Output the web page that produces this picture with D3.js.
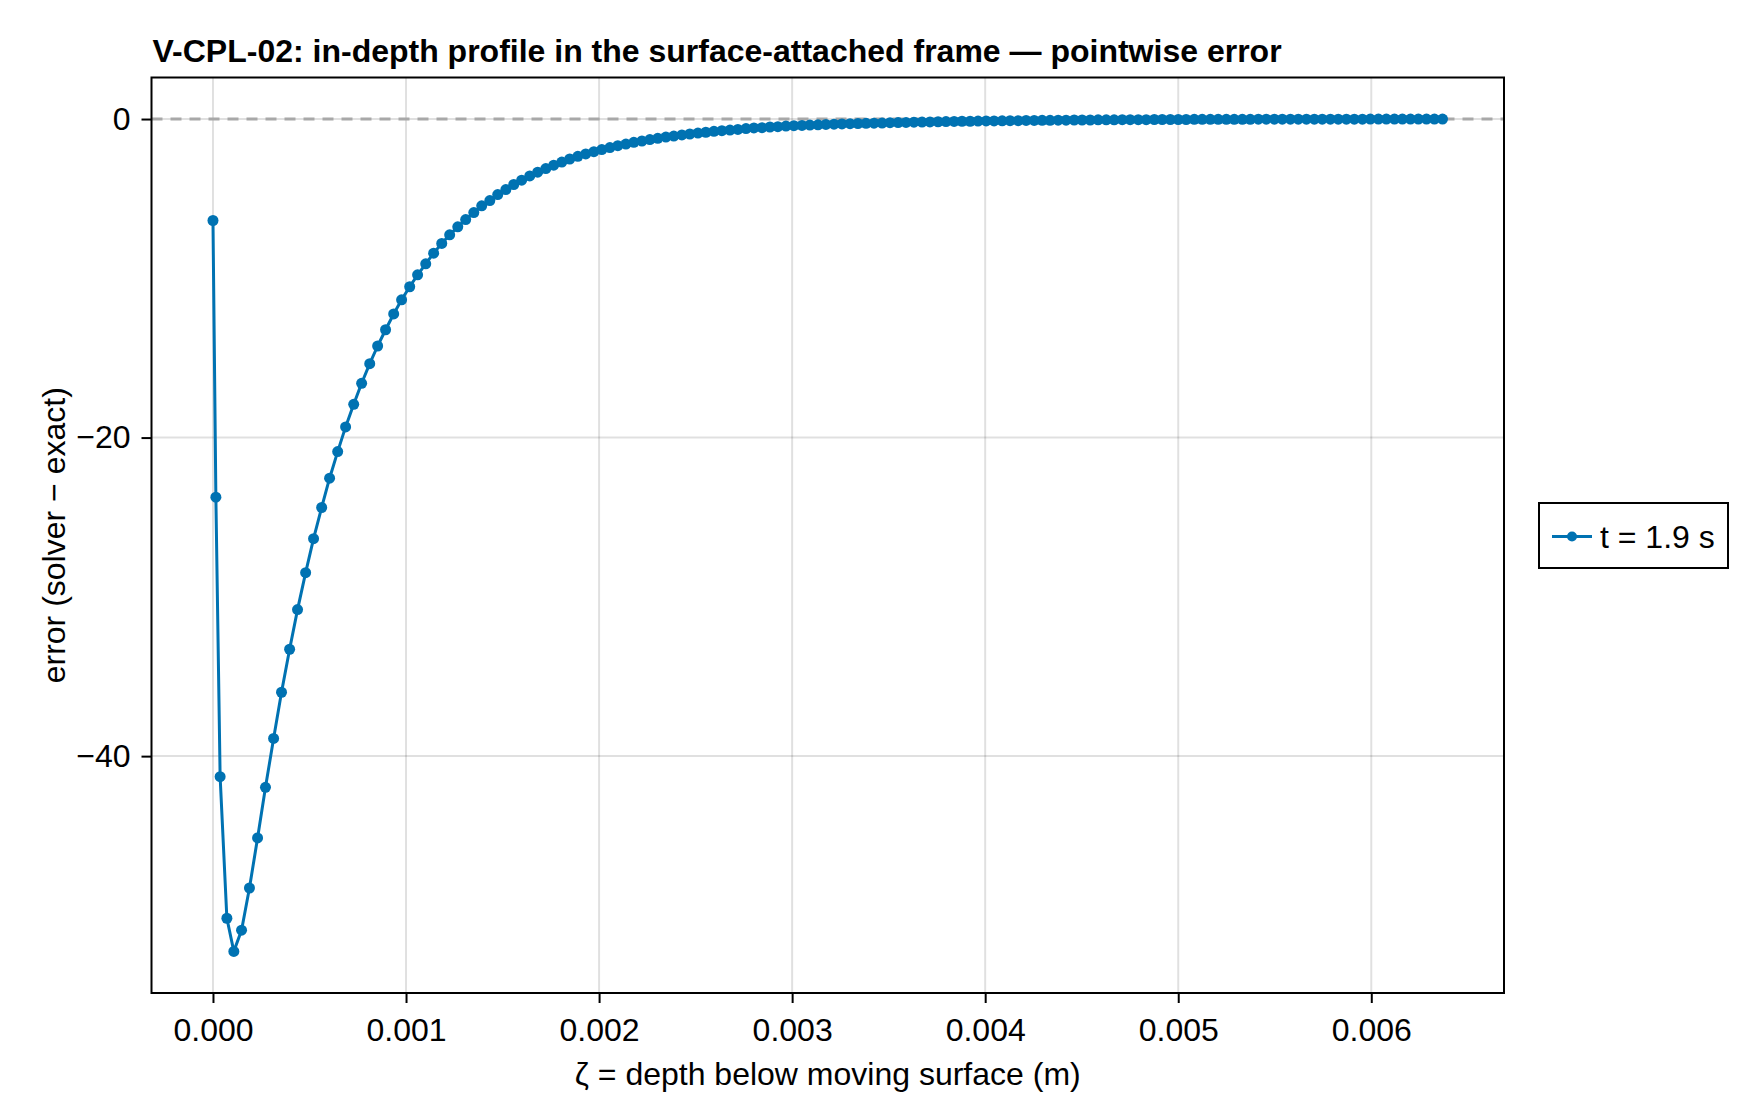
<!DOCTYPE html>
<html>
<head>
<meta charset="utf-8">
<title>V-CPL-02 pointwise error</title>
<script src="https://cdn.jsdelivr.net/npm/d3@7"></script>
<style>
  body { margin: 0; background: #ffffff; }
  svg text { font-family: "Liberation Sans", Arial, Helvetica, sans-serif; fill: #000000; }
  .grid line { stroke: rgba(0, 0, 0, 0.12); stroke-width: 2; }
  .axis path { display: none; }
  .axis line { stroke: #000000; stroke-width: 2; }
  .axis text { font-size: 32px; }
</style>
</head>
<body>
<div id="chart"></div>
<script>
"use strict";

// depth below moving surface (m)
var depth = [0, 0.000015, 0.000037, 0.000072, 0.000108,
  0.000148, 0.000189, 0.000231, 0.000272, 0.000314, 0.000355, 0.000397, 0.000438, 0.000480, 0.000521,
  0.000563, 0.000604, 0.000646, 0.000687, 0.000729, 0.000770, 0.000812, 0.000853, 0.000894, 0.000936,
  0.000977, 0.001019, 0.001060, 0.001102, 0.001143, 0.001185, 0.001226, 0.001268, 0.001309, 0.001351,
  0.001392, 0.001434, 0.001475, 0.001517, 0.001558, 0.001599, 0.001641, 0.001682, 0.001724, 0.001765,
  0.001807, 0.001848, 0.001890, 0.001931, 0.001973, 0.002014, 0.002056, 0.002097, 0.002139, 0.002180,
  0.002222, 0.002263, 0.002304, 0.002346, 0.002387, 0.002429, 0.002470, 0.002512, 0.002553, 0.002595,
  0.002636, 0.002678, 0.002719, 0.002761, 0.002802, 0.002844, 0.002885, 0.002926, 0.002968, 0.003009,
  0.003051, 0.003092, 0.003134, 0.003175, 0.003217, 0.003258, 0.003300, 0.003341, 0.003383, 0.003424,
  0.003466, 0.003507, 0.003549, 0.003590, 0.003631, 0.003673, 0.003714, 0.003756, 0.003797, 0.003839,
  0.003880, 0.003922, 0.003963, 0.004005, 0.004046, 0.004088, 0.004129, 0.004171, 0.004212, 0.004254,
  0.004295, 0.004336, 0.004378, 0.004419, 0.004461, 0.004502, 0.004544, 0.004585, 0.004627, 0.004668,
  0.004710, 0.004751, 0.004793, 0.004834, 0.004876, 0.004917, 0.004959, 0.005000, 0.005041, 0.005083,
  0.005124, 0.005166, 0.005207, 0.005249, 0.005290, 0.005332, 0.005373, 0.005415, 0.005456, 0.005498,
  0.005539, 0.005581, 0.005622, 0.005664, 0.005705, 0.005746, 0.005788, 0.005829, 0.005871, 0.005912,
  0.005954, 0.005995, 0.006037, 0.006078, 0.006120, 0.006161, 0.006203, 0.006244, 0.006286, 0.006327,
  0.006369];

// error (solver - exact) at t = 1.9 s
var errorT19 = [-6.37, -23.74, -41.29, -50.18, -52.26,
  -50.93, -48.28, -45.14, -41.96, -38.89, -35.99, -33.29, -30.80, -28.48, -26.35, -24.39,
  -22.55, -20.88, -19.33, -17.91, -16.59, -15.36, -14.25, -13.23, -12.24, -11.35,
  -10.53, -9.78, -9.09, -8.42, -7.81, -7.27, -6.77, -6.31, -5.87, -5.45,
  -5.12, -4.74, -4.43, -4.11, -3.84, -3.57, -3.34, -3.11, -2.90, -2.70,
  -2.51, -2.34, -2.19, -2.05, -1.92, -1.79, -1.67, -1.57, -1.46, -1.38,
  -1.29, -1.21, -1.13, -1.07, -1.00, -0.94, -0.88, -0.83, -0.77, -0.73,
  -0.69, -0.65, -0.60, -0.56, -0.54, -0.50, -0.48, -0.44, -0.42, -0.40,
  -0.38, -0.36, -0.34, -0.32, -0.31, -0.29, -0.28, -0.27, -0.26, -0.25,
  -0.23, -0.22, -0.21, -0.20, -0.19, -0.18, -0.17, -0.16, -0.15, -0.14,
  -0.14, -0.13, -0.12, -0.12, -0.11, -0.10, -0.10, -0.09, -0.09, -0.08,
  -0.08, -0.07, -0.07, -0.06, -0.06, -0.06, -0.05, -0.05, -0.05, -0.04,
  -0.04, -0.04, -0.04, -0.03, -0.03, -0.03, -0.03, -0.03, -0.02, -0.02,
  -0.02, -0.02, -0.02, -0.02, -0.02, -0.02, -0.01, -0.01, -0.01, -0.01,
  -0.01, -0.01, -0.01, -0.01, -0.01, -0.01, -0.01, -0.01, -0.01, -0.01,
  -0.005, -0.005, -0.005, -0.005, -0.005, -0.005, -0.005, -0.005, -0.005, -0.005];

var xTicks = [0, 0.001, 0.002, 0.003, 0.004, 0.005, 0.006];
var yTicks = [0, -20, -40];
var seriesLabel = "t = 1.9 s";
var titleText = "V-CPL-02: in-depth profile in the surface-attached frame \u2014 pointwise error";
var xLabel = "\u03b6 = depth below moving surface (m)";
var yLabel = "error (solver \u2212 exact)";

function profileChart(dataset, w, h) {

  var blue = "#0072b2";

  //Plot frame
  var left = 151.5, right = 1504, top = 77.5, bottom = 993;

  //Makie style limits: data extent padded by 5%
  var xExt = d3.extent(dataset, function (d) { return d.depth; });
  var yExt = d3.extent(dataset, function (d) { return d.error; });
  var xPad = (xExt[1] - xExt[0]) * 0.05;
  var yPad = (yExt[1] - yExt[0]) * 0.05;

  var xScale = d3.scaleLinear()
    .domain([xExt[0] - xPad, xExt[1] + xPad])
    .range([left, right]);

  var yScale = d3.scaleLinear()
    .domain([yExt[0] - yPad, yExt[1] + yPad])
    .range([bottom, top]);

  var svg = d3.select("#chart")
    .append("svg")
    .attr("width", w)
    .attr("height", h);

  svg.append("rect")
    .attr("width", w)
    .attr("height", h)
    .attr("fill", "#ffffff");

  //Grid lines
  svg.append("g")
    .attr("class", "grid")
    .selectAll("line.gx")
    .data(xTicks)
    .enter()
    .append("line")
    .attr("x1", function (d) { return xScale(d); })
    .attr("x2", function (d) { return xScale(d); })
    .attr("y1", top)
    .attr("y2", bottom);

  svg.append("g")
    .attr("class", "grid")
    .selectAll("line.gy")
    .data(yTicks)
    .enter()
    .append("line")
    .attr("x1", left)
    .attr("x2", right)
    .attr("y1", function (d) { return yScale(d); })
    .attr("y2", function (d) { return yScale(d); });

  //Dashed zero reference
  svg.append("line")
    .attr("x1", left)
    .attr("x2", right)
    .attr("y1", yScale(0))
    .attr("y2", yScale(0))
    .attr("stroke", "#a8a8a8")
    .attr("stroke-width", 3)
    .attr("stroke-dasharray", "11,8");

  //Line + markers
  var line = d3.line()
    .x(function (d) { return xScale(d.depth); })
    .y(function (d) { return yScale(d.error); });

  svg.append("path")
    .datum(dataset)
    .attr("fill", "none")
    .attr("stroke", blue)
    .attr("stroke-width", 3)
    .attr("stroke-linejoin", "round")
    .attr("d", line);

  svg.append("g")
    .selectAll("circle")
    .data(dataset)
    .enter()
    .append("circle")
    .attr("cx", function (d) { return xScale(d.depth); })
    .attr("cy", function (d) { return yScale(d.error); })
    .attr("r", 5.5)
    .attr("fill", blue);

  //Axes
  var xAxis = d3.axisBottom(xScale)
    .tickValues(xTicks)
    .tickSize(10)
    .tickPadding(15)
    .tickFormat(d3.format(".3f"));

  var yAxis = d3.axisLeft(yScale)
    .tickValues(yTicks)
    .tickSize(10)
    .tickPadding(11)
    .tickFormat(d3.format("d"));

  svg.append("g")
    .attr("class", "axis")
    .attr("transform", "translate(0," + bottom + ")")
    .call(xAxis);

  svg.append("g")
    .attr("class", "axis")
    .attr("transform", "translate(" + left + ",0)")
    .call(yAxis);

  //Frame
  svg.append("rect")
    .attr("x", left)
    .attr("y", top)
    .attr("width", right - left)
    .attr("height", bottom - top)
    .attr("fill", "none")
    .attr("stroke", "#000000")
    .attr("stroke-width", 2);

  //Title and labels
  svg.append("text")
    .attr("x", left + 1)
    .attr("y", 62)
    .attr("font-size", "32px")
    .attr("font-weight", "bold")
    .text(titleText);

  svg.append("text")
    .attr("x", (left + right) / 2)
    .attr("y", 1085)
    .attr("text-anchor", "middle")
    .attr("font-size", "32px")
    .text(xLabel);

  svg.append("text")
    .attr("transform", "translate(54," + ((top + bottom) / 2) + ") rotate(-90)")
    .attr("text-anchor", "middle")
    .attr("dominant-baseline", "central")
    .attr("font-size", "32px")
    .text(yLabel);

  //Legend
  var lg = svg.append("g")
    .attr("transform", "translate(1539,503)");

  lg.append("rect")
    .attr("width", 189)
    .attr("height", 65)
    .attr("fill", "#ffffff")
    .attr("stroke", "#000000")
    .attr("stroke-width", 2);

  lg.append("line")
    .attr("x1", 13)
    .attr("x2", 53)
    .attr("y1", 33.5)
    .attr("y2", 33.5)
    .attr("stroke", blue)
    .attr("stroke-width", 3);

  lg.append("circle")
    .attr("cx", 33)
    .attr("cy", 33.5)
    .attr("r", 5)
    .attr("fill", blue);

  lg.append("text")
    .attr("x", 61)
    .attr("y", 33.5)
    .attr("dominant-baseline", "central")
    .attr("font-size", "32px")
    .text(seriesLabel);
}

function init() {
  var w = 1760;
  var h = 1120;

  var dataset = depth.map(function (d, i) {
    return { depth: d, error: errorT19[i] };
  });

  profileChart(dataset, w, h);
}

window.onload = init;
</script>
</body>
</html>
